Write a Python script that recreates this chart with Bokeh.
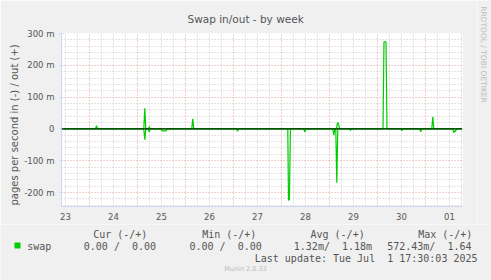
import numpy as np
from bokeh.plotting import figure
from bokeh.layouts import column, row
from bokeh.models import Range1d, FixedTicker, Grid, Span, Title
from bokeh.core.properties import value
from bokeh.embed import file_html
from bokeh.resources import INLINE

# ---------------- data (time in days since Jun 23 00:00, values in milli pages/s)
day_labels = ["23", "24", "25", "26", "27", "28", "29", "30", "01"]
day_label_pos = [0.5, 1.5, 2.5, 3.5, 4.5, 5.5, 6.5, 7.5, 8.5]
y_ticks = [-200, -100, 0, 100, 200, 300]
y_tick_labels = ["-200 m", "-100 m", "0", "100 m", "200 m", "300 m"]

out_t = [0.42, 1.125, 1.146, 1.167, 2.131, 2.152, 2.173, 2.223, 2.244, 2.265,
         3.131, 3.152, 3.173, 6.146, 6.167, 6.188, 6.209, 7.115, 7.135, 7.177,
         7.198, 8.131, 8.152, 8.173, 8.75]
out_v = [0, 0, 10, 0, 0, 65, 0, 0, 7, 0,
         0, 32, 0, 0, 20, 16, 0, 0, 274, 274,
         0, 0, 38, 0, 0]

in_t = [0.42, 2.131, 2.152, 2.173, 2.223, 2.244, 2.265, 2.49, 2.51, 2.60, 2.62,
        4.062, 4.083, 4.104, 5.131, 5.146, 5.165, 5.186, 5.465, 5.485, 5.506,
        6.07, 6.09, 6.11, 6.131, 6.152, 6.173, 6.42, 6.438, 6.455,
        7.485, 7.506, 7.527, 7.881, 7.902, 7.923, 8.569, 8.59, 8.61, 8.625,
        8.646, 8.75]
in_v = [0, 0, 34, 0, 0, 10, 0, 0, 6, 6, 0,
        0, 7, 0, 0, 225, 222, 0, 0, 10, 0,
        0, 20, 0, 0, 169, 0, 0, 5, 0,
        0, 6, 0, 0, 9, 0, 0, 12, 6, 8,
        0, 0]

legend_headers = ["Cur (-/+)", "Min (-/+)", "Avg (-/+)", "Max (-/+)"]
legend_values = ["0.00 /  0.00", "0.00 /  0.00", "1.32m/  1.18m", "572.43m/  1.64"]
series_name = "swap"
last_update = "Last update: Tue Jul  1 17:30:03 2025"
version_text = "Munin 2.0.33"
title_text = "Swap in/out - by week"
ylabel_text = "pages per second in (-) / out (+)"
watermark_text = "RRDTOOL / TOBI OETIKER"

# ---------------- layout constants (absolute pixel positions of the 491x280 page)
W, H = 491, 280
TOP_H = 224                 # height of the chart row
WM_W = 14                   # narrow column holding the watermark
MAIN_W = W - WM_W
FL, FT, FW, FH = 61, 33, 401, 173
X0 = 0.4167
X1 = X0 + FW / 48.0
Y1 = 300.0
Y0 = -244.0

GREEN = "#00CC00"
FONT_C = "#555555"
AXIS_C = "#CFD6F8"
BG = "#F0F0F0"


def nb(s):
    return s.replace(" ", "\u00a0")


def blank_fig(w, h, x0):
    f = figure(width=w, height=h, output_backend="svg", toolbar_location=None,
               x_range=Range1d(x0, x0 + w), y_range=Range1d(0, h),
               x_axis_location=None, y_axis_location=None,
               min_border=0, min_border_left=0, min_border_right=0,
               min_border_top=0, min_border_bottom=0)
    f.frame_align = False
    f.background_fill_color = BG
    f.border_fill_color = BG
    f.outline_line_color = None
    f.xgrid.visible = False
    f.ygrid.visible = False
    return f


# ---------------- main chart
p = figure(width=MAIN_W, height=TOP_H, output_backend="svg", toolbar_location=None,
           x_range=Range1d(X0, X1), y_range=Range1d(Y0, Y1),
           min_border_left=FL, min_border_right=MAIN_W - (FL + FW),
           min_border_top=FT, min_border_bottom=TOP_H - FT - FH)
p.frame_align = False
p.background_fill_color = "white"
p.border_fill_color = BG
p.outline_line_color = None

p.title = Title(text=title_text, align="left", offset=126, standoff=18,
                text_font="DejaVu Sans", text_font_size="10.5px",
                text_font_style="normal", text_color=FONT_C)
p.add_layout(Title(text=ylabel_text, align="left", offset=1, standoff=4,
                   text_font="DejaVu Sans", text_font_size="10px",
                   text_font_style="normal", text_color=FONT_C), "left")

p.xaxis.ticker = FixedTicker(ticks=day_label_pos)
p.xaxis.major_label_overrides = {v: s for v, s in zip(day_label_pos, day_labels)}
p.xaxis.major_tick_out = 0
p.xaxis.major_tick_in = 0
p.xaxis.minor_tick_out = 0
p.xaxis.minor_tick_in = 0
p.xaxis.major_label_standoff = 6
p.yaxis.ticker = FixedTicker(ticks=y_ticks)
p.yaxis.major_label_overrides = {v: s for v, s in zip(y_ticks, y_tick_labels)}
p.yaxis.major_tick_out = 2
p.yaxis.major_tick_in = 2
p.yaxis.major_tick_line_color = AXIS_C
p.yaxis.minor_tick_out = 0
p.yaxis.minor_tick_in = 0
p.yaxis.major_label_standoff = 5
for ax in (p.xaxis[0], p.yaxis[0]):
    ax.axis_line_color = AXIS_C
    ax.major_label_text_font = "DejaVu Sans"
    ax.major_label_text_font_size = "8.5px"
    ax.major_label_text_color = FONT_C

p.xgrid.visible = False
p.ygrid.visible = False
minor_x = [d + f for d in range(0, 10) for f in (0.25, 0.5, 0.75)]
minor_y = [v for v in range(-240, 301, 20) if v % 100 != 0]
grids = [
    Grid(dimension=0, ticker=FixedTicker(ticks=minor_x), grid_line_color="#c8c8c8"),
    Grid(dimension=1, ticker=FixedTicker(ticks=minor_y), grid_line_color="#c8c8c8"),
    Grid(dimension=0, ticker=FixedTicker(ticks=list(range(0, 10))), grid_line_color="#e89a9a"),
    Grid(dimension=1, ticker=FixedTicker(ticks=y_ticks), grid_line_color="#e89a9a"),
]
for g in grids:
    g.grid_line_dash = "1 2"
    g.grid_line_width = 1
    p.add_layout(g)

p.line(out_t, out_v, line_color=GREEN, line_width=1.2)
p.line(in_t, -np.array(in_v, dtype=float), line_color=GREEN, line_width=1.2)
p.add_layout(Span(location=0, dimension="width", line_color="black", line_width=1))

# ---------------- watermark column
wm = blank_fig(WM_W, TOP_H, W - WM_W)
wm.text(x=[482.5], y=[TOP_H - 54], text=[watermark_text], angle=-np.pi / 2,
        text_align="center", text_baseline="middle",
        text_font=value("DejaVu Sans"), text_font_size=value("7.5px"),
        text_color="#bcbcbc")

# ---------------- legend panel
LEG_H = H - TOP_H
lg = blank_fig(W, LEG_H, 0)


def ly(abs_y):
    return LEG_H - (abs_y - TOP_H)


mono = dict(text_font=value("DejaVu Sans Mono"), text_font_size=value("10px"),
            text_color=FONT_C, text_baseline="middle")
header_x = [92.7, 201.7, 310, 417.7]
value_x = [83.3, 189, 293.3, 386.7]
lg.text(x=header_x, y=[ly(233.5)] * 4, text=[nb(s) for s in legend_headers],
        text_align="left", **mono)
lg.text(x=value_x, y=[ly(245.5)] * 4, text=[nb(s) for s in legend_values],
        text_align="left", **mono)
lg.text(x=[26.7], y=[ly(245.5)], text=[series_name], text_align="left", **mono)
lg.text(x=[477], y=[ly(257.5)], text=[nb(last_update)], text_align="right", **mono)
lg.text(x=[245], y=[ly(268.5)], text=[version_text], text_align="center",
        text_baseline="middle", text_font=value("DejaVu Sans"),
        text_font_size=value("6.5px"), text_color="#bbbbbb")
lg.quad(left=[14], right=[20], top=[ly(242)], bottom=[ly(248)],
        fill_color=GREEN, line_color=None)

layout = column(row(p, wm, spacing=0), lg, spacing=0)
open("out.html", "w").write(file_html(layout, INLINE))
